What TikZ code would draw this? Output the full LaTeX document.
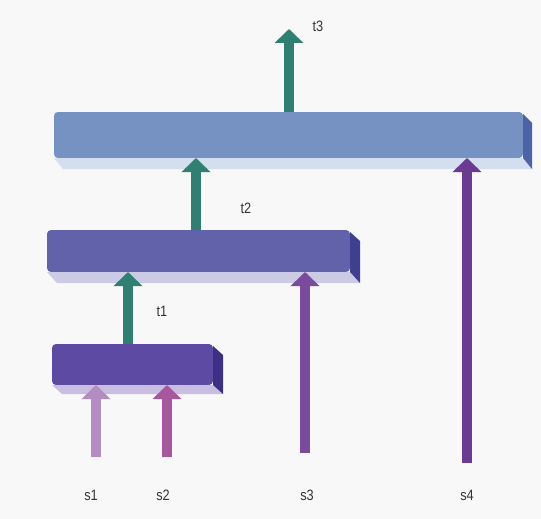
\documentclass[tikz,border=0pt]{standalone}
\usepackage{fontspec}
\setmainfont{Liberation Sans}
\usetikzlibrary{arrows.meta,calc}
\definecolor{bgc}{HTML}{F8F8F8}
\definecolor{fA}{HTML}{7592C2}\definecolor{bA}{HTML}{D3DEEE}\definecolor{sA}{HTML}{4C63A8}
\definecolor{fB}{HTML}{6262AA}\definecolor{bB}{HTML}{CBCBE6}\definecolor{sB}{HTML}{3E3F8E}
\definecolor{fC}{HTML}{5D4BA3}\definecolor{bC}{HTML}{C9BDE0}\definecolor{sC}{HTML}{3D2E86}
\definecolor{teal}{HTML}{2F7F72}
\definecolor{cs1}{HTML}{B48CC4}\definecolor{cs2}{HTML}{A6579E}
\definecolor{cs3}{HTML}{7A4B9C}\definecolor{cs4}{HTML}{6C3A92}
\definecolor{txt}{HTML}{333333}
\begin{document}
\begin{tikzpicture}[x=1pt,y=-1pt,
  front/.style={anchor=north west,inner sep=0pt,outer sep=0pt,rounded corners=4pt},
  bigarrow/.style={line width=9.5pt,-{Triangle[width=28pt,length=14pt]}},
  lbl/.style={text=txt,font=\fontsize{15}{17}\selectfont,inner sep=0pt,xscale=0.85}]
\fill[bgc] (0,0) rectangle (541,519);
% box A (top)
\node[front,fill=fA,minimum width=469pt,minimum height=46pt] (bA) at (54,112) {};
\fill[bA] (bA.south west) -- (bA.south east) -- ++(9,11) -- ($(bA.south west)+(9,11)$) -- cycle;
\fill[sA] ($(bA.north east)+(0,2)$) -- ++(9,9) -- ($(bA.south east)+(9,11)$) -- (bA.south east) -- cycle;
% box B
\node[front,fill=fB,minimum width=303pt,minimum height=42pt] (bB) at (47,230) {};
\fill[bB] (bB.south west) -- (bB.south east) -- ++(10,11) -- ($(bB.south west)+(10,11)$) -- cycle;
\fill[sB] ($(bB.north east)+(0,2)$) -- ++(10,9) -- ($(bB.south east)+(10,11)$) -- (bB.south east) -- cycle;
% box C
\node[front,fill=fC,minimum width=161pt,minimum height=41pt] (bC) at (52,344) {};
\fill[bC] (bC.south west) -- (bC.south east) -- ++(10,9) -- ($(bC.south west)+(10,9)$) -- cycle;
\fill[sC] ($(bC.north east)+(0,2)$) -- ++(10,9) -- ($(bC.south east)+(10,9)$) -- (bC.south east) -- cycle;
% coordinates
\coordinate (t3end) at (289,29);
\coordinate (s1) at (96,457);
\coordinate (s2) at (167,457);
\coordinate (s3) at (305,453);
\coordinate (s4) at (467,463);
% arrows
\draw[bigarrow,teal] (bA.north -| t3end) -- (t3end);
\draw[bigarrow,teal] (bB.north -| 196,0) -- (bA.south -| 196,0);
\draw[bigarrow,teal] (bC.north -| 128,0) -- (bB.south -| 128,0);
\draw[bigarrow,cs1] (s1) -- (bC.south -| s1);
\draw[bigarrow,cs2] (s2) -- (bC.south -| s2);
\draw[bigarrow,cs3] (s3) -- (bB.south -| s3);
\draw[bigarrow,cs4] (s4) -- (bA.south -| s4);
% labels
\node[lbl] (lt3) at (318,26) {t3};
\node[lbl] (lt2) at (246,208) {t2};
\node[lbl] (lt1) at (162,311) {t1};
\node[lbl] (ls1) at (91,495) {s1};
\node[lbl] (ls2) at (163,495) {s2};
\node[lbl] (ls3) at (307,495) {s3};
\node[lbl] (ls4) at (467,495) {s4};
\end{tikzpicture}
\end{document}
